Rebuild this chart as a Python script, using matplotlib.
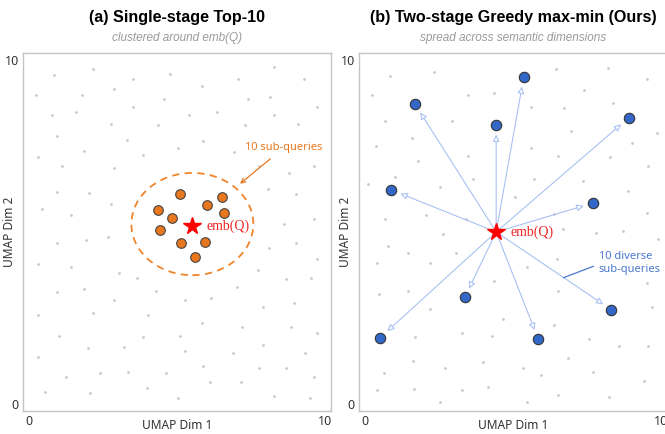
import matplotlib
matplotlib.use("Agg")
import matplotlib.pyplot as plt
from matplotlib.patches import Ellipse

# fondo: puntos grises de "documentos" en cada panel
bg_a_x = [0.83, 2.15, 4.77, 8.27, 3.51, 7.06, 9.30, 5.84, 2.87, 0.25, 1.80, 4.55, 7.40, 8.14, 3.51, 9.74,
          0.78, 1.60, 5.39, 6.34, 8.28, 2.77, 4.35, 7.31, 9.09, 0.96, 3.32, 5.87, 1.87, 5.05, 6.94, 0.32,
          3.85, 1.11, 2.87, 7.77, 8.78, 9.63,
          0.95, 2.03, 2.77, 0.45, 1.42, 8.06, 9.02, 9.63, 8.63, 2.66, 1.93, 0.95, 8.11, 9.02, 9.73, 0.30,
          1.42, 3.03, 3.66, 7.75, 8.67, 9.52, 1.87, 0.95, 4.30, 7.03,
          2.87, 5.27, 6.15, 7.91, 8.96, 0.32, 2.16, 4.03, 5.83, 7.20, 8.84, 9.73, 1.00, 3.85, 5.09, 2.00,
          3.22, 5.28, 6.90, 7.91, 9.31, 0.32, 5.87, 1.24, 2.39, 3.33, 4.64, 6.10, 7.17, 7.77, 8.67, 9.63,
          0.54, 2.07, 4.00, 5.03, 8.28, 9.48]
bg_a_y = [9.55, 9.74, 9.60, 9.78, 9.44, 9.45, 9.44, 9.25, 9.16, 8.97, 8.97, 8.86, 8.87, 8.91, 8.64, 8.63,
          8.39, 8.49, 8.41, 8.49, 8.39, 8.15, 8.11, 8.11, 8.15, 7.78, 7.66, 7.63, 7.34, 7.44, 7.33, 7.18,
          7.25, 6.91, 6.85, 6.91, 6.72, 6.91,
          6.16, 6.14, 5.80, 5.66, 5.50, 6.26, 6.09, 5.39, 5.22, 4.85, 4.76, 4.67, 4.53, 4.67, 4.22, 4.08,
          3.99, 3.81, 3.67, 3.90, 3.64, 3.66, 3.33, 3.26, 3.30, 3.39,
          3.03, 3.03, 3.09, 2.81, 2.95, 2.59, 2.66, 2.59, 2.35, 2.23, 2.24, 2.08, 1.97, 1.94, 1.98, 1.64,
          1.66, 1.53, 1.48, 1.72, 1.48, 1.37, 1.12, 0.78, 0.89, 0.93, 0.89, 0.63, 0.63, 1.04, 1.06, 0.78,
          0.35, 0.31, 0.46, 0.19, 0.25, 0.19]

bg_b_x = [0.86, 2.32, 6.46, 8.22, 9.53, 0.25, 3.49, 4.34, 7.41, 5.60, 6.73, 8.39, 0.68, 2.95, 6.97, 9.86,
          1.57, 9.02, 0.38, 5.59, 6.51, 8.29, 1.79, 3.49, 9.55,
          1.01, 0.09, 2.53, 3.64, 5.71, 7.35, 5.07, 8.89, 2.06, 0.68, 3.41, 6.40, 9.52, 2.62, 6.68, 7.80,
          8.70, 9.89, 0.77, 1.44, 3.07, 6.49, 5.46, 2.20, 0.39, 4.34, 1.46, 9.54, 6.51,
          0.48, 2.21, 4.65, 9.68, 6.40, 1.70, 3.29, 4.30, 7.55, 8.59, 9.56, 6.87, 1.63, 3.99, 0.65, 2.69,
          5.32, 5.96, 7.71, 9.41, 0.42, 1.67, 3.29, 4.16, 6.52, 8.24, 2.54, 5.47]
bg_b_y = [9.54, 9.64, 9.74, 9.76, 9.44, 8.97, 8.97, 9.05, 9.11, 8.63, 8.60, 8.75, 8.21, 8.21, 7.94, 7.88,
          7.74, 7.58, 7.49, 7.45, 7.21, 7.17, 7.06, 7.20, 6.92,
          6.60, 6.38, 6.30, 6.53, 6.53, 6.48, 6.01, 6.19, 5.50, 5.37, 5.39, 5.53, 5.56, 4.93, 5.10, 4.97,
          5.03, 4.81, 4.59, 4.40, 4.38, 4.22, 3.97, 4.10, 4.10, 3.57, 3.29, 3.52, 3.28,
          3.20, 2.75, 2.48, 2.82, 2.30, 1.94, 2.08, 1.98, 1.90, 1.68, 1.70, 1.34, 1.25, 1.21, 0.91, 1.04,
          1.04, 0.86, 0.92, 0.68, 0.40, 0.44, 0.40, 0.50, 0.27, 0.20, 0.06, 0.06]

# consulta original
q_a = (5.50, 5.18)
q_b = (4.43, 5.00)

# (a) sub-consultas agrupadas
top_x = [5.10, 6.51, 6.02, 4.37, 6.58, 4.82, 4.44, 5.15, 5.96, 5.61]
top_y = [6.10, 6.03, 5.78, 5.65, 5.55, 5.40, 5.07, 4.67, 4.72, 4.28]

# (b) sub-consultas diversas
div_x = [5.36, 1.69, 4.43, 8.90, 0.89, 7.70, 3.37, 0.51, 5.85, 8.32]
div_y = [9.50, 8.71, 8.11, 8.31, 6.22, 5.84, 3.10, 1.93, 1.89, 2.74]

GRIS = "#c8c8c8"
NARANJA = "#e8771e"
AZUL = "#3468c8"
FLECHA = "#a9c1f2"

fig = plt.figure(figsize=(6.65, 4.34), dpi=100)
ax_a = fig.add_axes([0.0346, 0.053, 0.463, 0.825])
ax_b = fig.add_axes([0.540, 0.053, 0.463, 0.825])


def estilo(ax):
    ax.set_xlim(-0.2, 10.2)
    ax.set_ylim(-0.2, 10.2)
    ax.set_xticks([0, 10])
    ax.set_yticks([0, 10])
    ax.tick_params(length=0, labelsize=9, labelcolor="#333333", pad=3)
    for lab in ax.get_xticklabels() + ax.get_yticklabels():
        lab.set_fontfamily("Noto Sans")
    for s in ax.spines.values():
        s.set_color("#c4c4c4")
        s.set_linewidth(1.0)
    ax.set_xlabel("UMAP Dim 1", fontsize=8.6, family="Noto Sans", color="#333333")
    ax.set_ylabel("UMAP Dim 2", fontsize=8.6, family="Noto Sans", color="#333333")
    ax.xaxis.set_label_coords(0.5, -0.022)
    ax.yaxis.set_label_coords(-0.024, 0.5)


estilo(ax_a)
estilo(ax_b)

# ---- panel (a)
ax_a.scatter(bg_a_x, bg_a_y, s=4, color=GRIS, linewidths=0, zorder=1)
ax_a.add_patch(Ellipse((5.52, 5.23), 4.12, 2.97, fill=False, edgecolor="#f0842a",
                       linestyle=(0, (4, 3)), linewidth=1.3, zorder=2))
ax_a.scatter(top_x, top_y, s=48, color=NARANJA, edgecolors="#444444", linewidths=0.8, zorder=3)
ax_a.plot(*q_a, marker="*", markersize=13, color="red", linestyle="none", zorder=4)
ax_a.text(q_a[0] + 0.5, q_a[1], "emb(Q)", color="#ee2222", fontsize=10,
          family="Liberation Serif", va="center", ha="left", zorder=4)
ax_a.annotate("10 sub-queries", xy=(7.13, 6.40), xytext=(8.6, 7.44), color=NARANJA,
              fontsize=8, family="Noto Sans", ha="center", va="center",
              arrowprops=dict(arrowstyle="->", color=NARANJA, lw=0.9, shrinkA=3, shrinkB=0))

ax_a.set_title("(a) Single-stage Top-10", fontsize=11.6, fontweight="bold",
               family="Liberation Sans", pad=22)
ax_a.text(0.5, 1.042, "clustered around emb(Q)", transform=ax_a.transAxes, ha="center",
          va="center", fontsize=8.5, style="italic", color="#9a9a9a", family="Liberation Sans")

# ---- panel (b)
ax_b.scatter(bg_b_x, bg_b_y, s=4, color=GRIS, linewidths=0, zorder=1)
for x, y in zip(div_x, div_y):
    ax_b.annotate("", xy=(x, y), xytext=q_b,
                  arrowprops=dict(arrowstyle="-|>", color=FLECHA, fc="white", lw=0.8,
                                  mutation_scale=10, shrinkA=0, shrinkB=7), zorder=2)
ax_b.scatter(div_x, div_y, s=56, color=AZUL, edgecolors="#333333", linewidths=0.8, zorder=3)
ax_b.plot(*q_b, marker="*", markersize=13, color="red", linestyle="none", zorder=4)
ax_b.text(q_b[0] + 0.5, q_b[1], "emb(Q)", color="#ee2222", fontsize=10,
          family="Liberation Serif", va="center", ha="left", zorder=4)
ax_b.annotate("10 diverse\nsub-queries", xy=(6.70, 3.67), xytext=(7.9, 4.10), color="#4a78d0",
              fontsize=8, family="Noto Sans", ha="left", va="center", linespacing=1.3,
              arrowprops=dict(arrowstyle="-", color="#4a78d0", lw=0.9, shrinkA=2, shrinkB=0,
                              relpos=(0, 0.45)))

ax_b.set_title("(b) Two-stage Greedy max-min (Ours)", fontsize=11.6, fontweight="bold",
               family="Liberation Sans", pad=22)
ax_b.text(0.5, 1.042, "spread across semantic dimensions", transform=ax_b.transAxes, ha="center",
          va="center", fontsize=8.5, style="italic", color="#9a9a9a", family="Liberation Sans")

fig.savefig("out.png", dpi=100, facecolor="white")
